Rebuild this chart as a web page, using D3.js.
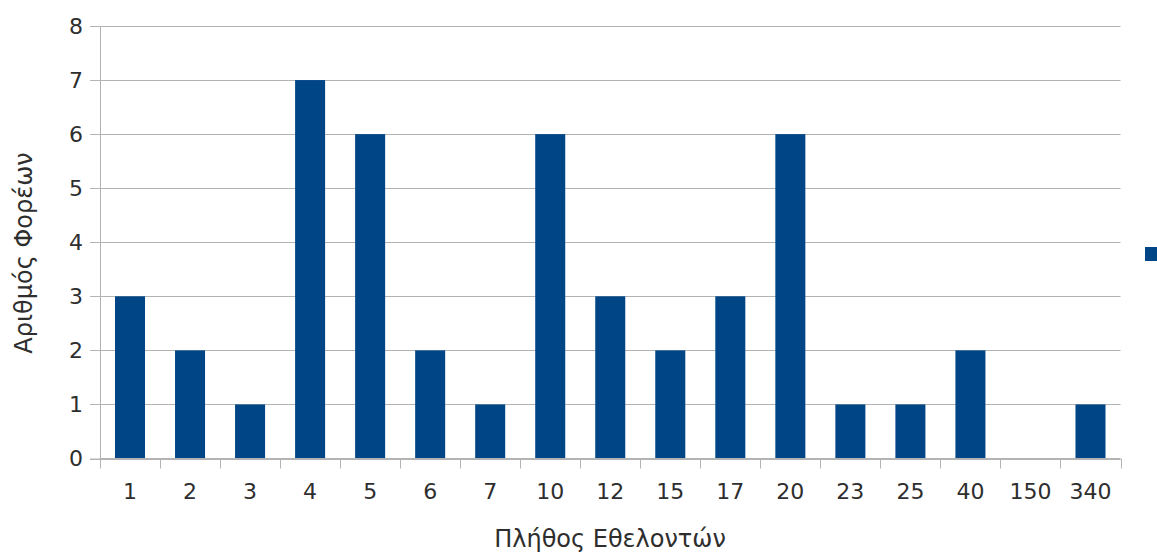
<!DOCTYPE html>
<html><head><meta charset="utf-8">
<script src="https://cdn.jsdelivr.net/npm/d3@7"></script>
<style>body{margin:0;background:#fff}svg{display:block}text{font-family:"DejaVu Sans",sans-serif;fill:#2e2e2e}</style>
</head><body><svg id="c" width="1157" height="553"></svg>
<script>
const categories = ["1","2","3","4","5","6","7","10","12","15","17","20","23","25","40","150","340"];
const values = [3,2,1,7,6,2,1,6,3,2,3,6,1,1,2,0,1];
const yTicks = [0,1,2,3,4,5,6,7,8];
const xTitle = "Πλήθος Εθελοντών";
const yTitle = "Αριθμός Φορέων";

const svg = d3.select("#c");
const L = 100, R = 1120.5, T = 26, B = 458.5;
const x = d3.scaleBand().domain(categories).range([L, R]).paddingInner(0.5).paddingOuter(0.25);
const y = d3.scaleLinear().domain([0, 8]).range([B, T]);

// gridlines
svg.append("g").selectAll("line").data(yTicks).join("line")
  .attr("x1", L - 10).attr("x2", R).attr("y1", d => Math.round(y(d)) + 0.5).attr("y2", d => Math.round(y(d)) + 0.5)
  .attr("stroke", "#b3b3b3").attr("stroke-width", 1);

// bars
svg.append("g").selectAll("rect").data(values).join("rect")
  .attr("x", (d, i) => x(categories[i])).attr("width", x.bandwidth())
  .attr("y", d => y(d)).attr("height", d => y(0) - y(d))
  .attr("fill", "#004586");

// y axis
const yAxis = svg.append("g").attr("transform", `translate(${L},0)`)
  .call(d3.axisLeft(y).tickValues(yTicks).tickSize(10).tickPadding(7));
yAxis.select(".domain").attr("stroke", "#b3b3b3");
yAxis.selectAll(".tick line").attr("stroke", "none");
yAxis.selectAll("text").attr("font-size", 22).attr("fill", "#2e2e2e").attr("font-family", "DejaVu Sans, sans-serif");

// x axis
const xEdges = d3.scaleLinear().domain([0, categories.length]).range([L, R]);
const xg = svg.append("g").attr("transform", `translate(0,${B})`);
xg.append("line").attr("x1", L).attr("x2", R).attr("stroke", "#b3b3b3");
xg.selectAll("line.tk").data(d3.range(categories.length + 1)).join("line").attr("class", "tk")
  .attr("x1", d => Math.round(xEdges(d)) + 0.5).attr("x2", d => Math.round(xEdges(d)) + 0.5)
  .attr("y1", 0).attr("y2", 10).attr("stroke", "#b3b3b3");
xg.call(g => g.selectAll("text.lb").data(categories).join("text").attr("class", "lb")
  .attr("x", d => x(d) + x.bandwidth() / 2).attr("y", 40)
  .attr("text-anchor", "middle").attr("font-size", 22).text(d => d));

// titles
svg.append("text").attr("x", 610).attr("y", 547).attr("text-anchor", "middle").attr("font-size", 24).text(xTitle);
svg.append("text").attr("transform", "translate(32,253) rotate(-90)").attr("text-anchor", "middle").attr("font-size", 24).text(yTitle);

// legend marker
svg.append("rect").attr("x", 1145).attr("y", 247).attr("width", 13).attr("height", 14).attr("fill", "#004586");
</script></body></html>
